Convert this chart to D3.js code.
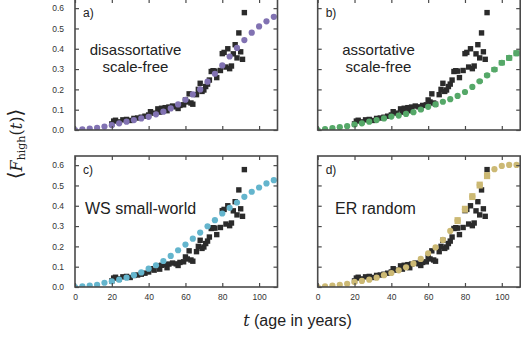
<!DOCTYPE html>
<html>
<head>
<meta charset="utf-8">
<script src="https://cdn.jsdelivr.net/npm/d3@7"></script>
<style>
  html, body { margin: 0; padding: 0; background: #fff; }
  svg { display: block; }
</style>
</head>
<body>
<svg id="chart" width="531" height="343"></svg>
<script>
// Empirical data: fraction of high-frailty individuals by age
const empiricalAge = [20,21,22,24,26,28,30,32,34,36,38,40,41,43,45,46,47,49,50,51,53,55,56,57,59,60,61,62,63,64,66,67,68,69,70,71,72,73,74,75,76,77,79,80,81,82,83,84,85,86,87,88,89,90,91,92];
const empiricalF = [0.030,0.044,0.048,0.040,0.050,0.052,0.047,0.057,0.059,0.063,0.068,0.074,0.090,0.083,0.104,0.088,0.107,0.110,0.095,0.113,0.118,0.114,0.106,0.121,0.124,0.148,0.138,0.178,0.133,0.127,0.174,0.200,0.230,0.190,0.197,0.214,0.226,0.246,0.288,0.292,0.290,0.258,0.293,0.376,0.382,0.310,0.400,0.302,0.315,0.375,0.420,0.355,0.478,0.385,0.348,0.578];

// Model output ages
const modelAge = [0,4,8,12,16,20,24,28,32,36,40,44,48,52,56,60,64,68,72,76,80,84,88,92,96,100,104,108];

// Model curves for each network topology
const disassortF = [0,0.003,0.007,0.011,0.017,0.024,0.033,0.041,0.049,0.057,0.065,0.077,0.090,0.106,0.126,0.149,0.175,0.200,0.238,0.277,0.318,0.362,0.404,0.443,0.479,0.510,0.535,0.557];
const assortF     = [0,0.004,0.009,0.014,0.019,0.027,0.033,0.041,0.049,0.057,0.066,0.071,0.079,0.088,0.101,0.114,0.126,0.139,0.152,0.168,0.187,0.212,0.240,0.269,0.298,0.331,0.355,0.378];
const smallWorldF = [0,0.003,0.007,0.011,0.021,0.028,0.036,0.046,0.058,0.072,0.090,0.107,0.128,0.153,0.181,0.209,0.238,0.268,0.299,0.329,0.362,0.390,0.416,0.444,0.469,0.490,0.510,0.526];
const randomF     = [0,0.003,0.007,0.011,0.016,0.025,0.030,0.036,0.046,0.058,0.069,0.082,0.097,0.115,0.138,0.166,0.195,0.232,0.276,0.327,0.383,0.445,0.502,0.548,0.580,0.596,0.601,0.601];

// Standard errors of the model means
const disassortErr = [0,0,0,0,0,0,0,0,0,0,0,0,0,0,0,0,0,0,0,0,0,0,0,0,0,0,0,0];
const assortErr     = [0,0,0,0,0,0,0,0,0,0,0,0,0,0,0,0,0,0,0,0,0,0,0.008,0.010,0.012,0.013,0.014,0.015];
const smallWorldErr = [0,0,0,0,0,0,0,0,0,0,0,0,0,0,0,0,0,0,0,0,0,0,0,0,0,0,0,0];
const randomErr     = [0,0,0,0,0,0,0,0,0,0,0,0,0,0,0,0,0,0,0,0.017,0.017,0.017,0.017,0.017,0,0,0,0];

const panelLetters = ["a)", "b)", "c)", "d)"];
const panelNames = [["disassortative", "scale-free"], ["assortative", "scale-free"], ["WS small-world"], ["ER random"]];
const panelColors = ["#8172b2", "#55a868", "#64b5cd", "#ccb974"];

const xTicks = [0, 20, 40, 60, 80, 100];
const yTicks = [0, 0.1, 0.2, 0.3, 0.4, 0.5, 0.6];
const xDomain = [0, 110];
const yDomain = [0, 0.645];

// ---- layout ----
const svg = d3.select("#chart");
const pw = 202.5, ph = 131;
const lefts = [75, 317.7];
const tops = [-1, 156];
const frameColor = "#4a4a4a";
const tickFont = "Liberation Sans, Arial, sans-serif";

const modelSeries = [
  { f: disassortF, e: disassortErr },
  { f: assortF, e: assortErr },
  { f: smallWorldF, e: smallWorldErr },
  { f: randomF, e: randomErr }
];

const empirical = empiricalAge.map((a, i) => ({ t: a, v: empiricalF[i] }));

modelSeries.forEach((s, k) => {
  const col = k % 2, row = Math.floor(k / 2);
  const x0 = lefts[col], y0 = tops[row];
  const x = d3.scaleLinear().domain(xDomain).range([0, pw]);
  const y = d3.scaleLinear().domain(yDomain).range([ph, 0]);

  const g = svg.append("g").attr("transform", `translate(${x0},${y0})`);

  const clipId = "clip" + k;
  g.append("clipPath").attr("id", clipId)
    .append("rect").attr("width", pw).attr("height", ph);

  const plot = g.append("g").attr("clip-path", `url(#${clipId})`);

  // empirical squares
  const sq = 5.4;
  plot.selectAll("rect.emp").data(empirical).join("rect")
    .attr("class", "emp")
    .attr("x", d => x(d.t) - sq / 2)
    .attr("y", d => y(d.v) - sq / 2)
    .attr("width", sq).attr("height", sq)
    .attr("fill", "#2b2b2b");

  const pts = modelAge.map((a, i) => ({ t: a, v: s.f[i], e: s.e[i] }));
  const r = 3.1;

  // error bars drawn as bands the width of the marker
  plot.selectAll("rect.err").data(pts.filter(d => d.e > 0)).join("rect")
    .attr("class", "err")
    .attr("x", d => x(d.t) - r)
    .attr("y", d => y(d.v + d.e))
    .attr("width", 2 * r)
    .attr("height", d => y(d.v - d.e) - y(d.v + d.e))
    .attr("fill", panelColors[k]);

  plot.selectAll("circle").data(pts).join("circle")
    .attr("cx", d => x(d.t))
    .attr("cy", d => y(d.v))
    .attr("r", r)
    .attr("fill", panelColors[k]);

  // axes with inward ticks on all four sides
  const showX = row === 1, showY = col === 0;
  const axB = g.append("g").attr("transform", `translate(0,${ph})`)
    .call(d3.axisBottom(x).tickValues(xTicks).tickSize(-4).tickPadding(7)
      .tickFormat(showX ? d3.format("d") : () => ""));
  const axT = g.append("g")
    .call(d3.axisTop(x).tickValues(xTicks).tickSize(-4).tickFormat(() => ""));
  const axL = g.append("g")
    .call(d3.axisLeft(y).tickValues(yTicks).tickSize(-4).tickPadding(11)
      .tickFormat(showY ? d3.format(".1f") : () => ""));
  const axR = g.append("g").attr("transform", `translate(${pw},0)`)
    .call(d3.axisRight(y).tickValues(yTicks).tickSize(-4).tickFormat(() => ""));

  [axB, axT, axL, axR].forEach(ax => {
    ax.select(".domain").remove();
    ax.selectAll(".tick line").attr("stroke", frameColor).attr("stroke-width", 1.2);
    ax.selectAll(".tick text").attr("fill", "#333")
      .style("font-family", tickFont).style("font-size", "8.5px");
  });

  g.append("rect")
    .attr("width", pw).attr("height", ph)
    .attr("fill", "none").attr("stroke", frameColor).attr("stroke-width", 1.6);

  // panel letter
  g.append("text")
    .attr("x", 8).attr("y", 18)
    .attr("fill", "#222")
    .style("font-family", tickFont).style("font-size", "12px")
    .text(panelLetters[k]);

  // network name
  const names = panelNames[k];
  const nameX = [60.5, 60.8, 10, 17.3][k];
  const anchor = names.length > 1 ? "middle" : "start";
  const lineGap = 17;
  const firstY = names.length > 1 ? 55.5 : 57.8;
  names.forEach((n, i) => {
    g.append("text")
      .attr("text-anchor", anchor)
      .attr("fill", "#222")
      .style("font-family", tickFont).style("font-size", names.length > 1 ? "15px" : "16px")
      .attr("x", nameX)
      .attr("y", firstY + i * lineGap)
      .text(n);
  });
});

// shared axis titles
const xl = svg.append("text")
  .attr("x", 297.5).attr("y", 326)
  .attr("text-anchor", "middle")
  .attr("fill", "#222")
  .style("font-family", tickFont).style("font-size", "16px");
xl.append("tspan").style("font-family", "DejaVu Serif, serif").style("font-style", "italic").text("t");
xl.append("tspan").text(" (age in years)");

const yl = svg.append("text")
  .attr("transform", "translate(22,144) rotate(-90)")
  .attr("text-anchor", "middle")
  .attr("fill", "#222")
  .style("font-family", "DejaVu Serif, serif").style("font-size", "16px");
yl.append("tspan").style("font-size", "20px").text("⟨");
yl.append("tspan").style("font-style", "italic").text("F");
yl.append("tspan").attr("dy", 3).style("font-size", "11px").text("high");
yl.append("tspan").attr("dy", -3).text("(");
yl.append("tspan").style("font-style", "italic").text("t");
yl.append("tspan").text(")");
yl.append("tspan").style("font-size", "20px").text("⟩");
</script>
</body>
</html>
